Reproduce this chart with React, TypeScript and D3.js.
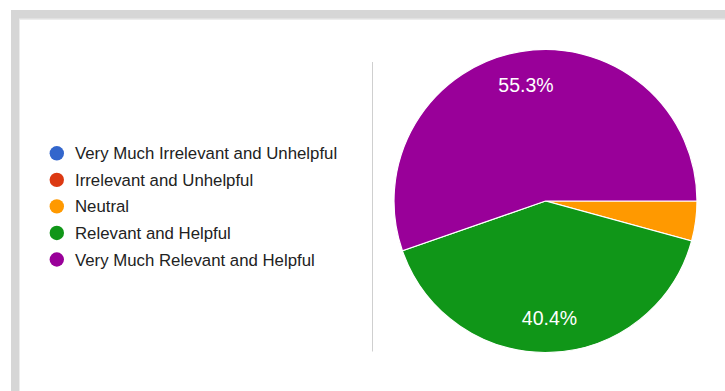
import React from "react";
import * as d3 from "d3";

const categories = [
  "Very Much Irrelevant and Unhelpful",
  "Irrelevant and Unhelpful",
  "Neutral",
  "Relevant and Helpful",
  "Very Much Relevant and Helpful",
];
const counts = [0, 0, 2, 19, 26];
const colors = ["#3366cc", "#dc3912", "#ff9900", "#109618", "#990099"];

const W = 725;
const H = 391;
const CX = 545.5;
const CY = 201;
const R = 151.5;

export default function App() {
  const total = d3.sum(counts);
  const pie = d3
    .pie<number>()
    .sort(null)
    .startAngle(Math.PI / 2)
    .endAngle(Math.PI / 2 + 2 * Math.PI)
    .value((d) => d);
  const arcs = pie(counts);
  const arc = d3.arc<d3.PieArcDatum<number>>().innerRadius(0).outerRadius(R);
  const labelArc = d3
    .arc<d3.PieArcDatum<number>>()
    .innerRadius(R * 0.775)
    .outerRadius(R * 0.775);
  const fmt = d3.format(".1%");
  const legendY = d3.scalePoint<string>().domain(categories).range([153.3, 259.5]);

  return (
    <svg
      width={W}
      height={H}
      style={{ position: "absolute", left: 0, top: 0, display: "block" }}
      fontFamily="'Liberation Sans', Arial, Helvetica, sans-serif"
    >
      <rect x={0} y={0} width={W} height={H} fill="#ffffff" />
      {/* frame */}
      <rect x={11} y={10} width={W - 11} height={H - 10} fill="#d6d6d6" />
      <rect x={19} y={18.5} width={W - 19} height={H - 18.5} fill="#ececec" />
      <rect x={20} y={20} width={W - 20} height={H - 20} fill="#ffffff" />

      {/* divider */}
      <line x1={372.5} x2={372.5} y1={62} y2={351.5} stroke="#cfcfcf" strokeWidth={1} />

      {/* legend */}
      {categories.map((c, i) => (
        <g key={c}>
          <circle cx={56.8} cy={legendY(c)} r={7.2} fill={colors[i]} />
          <text
            x={75}
            y={legendY(c)}
            dy="0.36em"
            fontSize={16.8}
            fill="#222222"
          >
            {c}
          </text>
        </g>
      ))}

      {/* pie */}
      <g transform={`translate(${CX},${CY})`}>
        {arcs.map((a, i) =>
          a.value > 0 ? (
            <path
              key={i}
              d={arc(a) || ""}
              fill={colors[i]}
              stroke="#ffffff"
              strokeWidth={1.2}
            />
          ) : null
        )}
        {arcs.map((a, i) => {
          if (a.value / total < 0.05) return null;
          const [x, y] = labelArc.centroid(a);
          return (
            <text
              key={"l" + i}
              x={x}
              y={y}
              dy="0.36em"
              textAnchor="middle"
              fontSize={19.5}
              fill="#ffffff"
            >
              {fmt(a.value / total)}
            </text>
          );
        })}
      </g>
    </svg>
  );
}
